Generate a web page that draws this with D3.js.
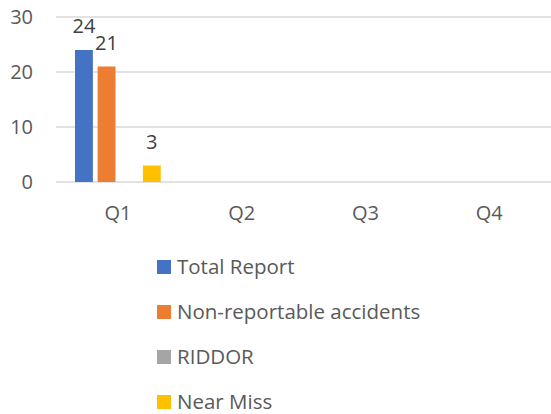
<!DOCTYPE html>
<html>
 <head>
  <meta charset="UTF-8">
  <title>Quarterly reports</title>
  <style>
    body { margin: 0; background: #fff; }
    text { font-family: "Open Sans", sans-serif; fill: #595959; }
  </style>
 </head>
 <body>
<div id="viz-wrapper"></div>
 <script src="https://cdnjs.cloudflare.com/ajax/libs/d3/7.8.5/d3.min.js"></script>
 <script>
    // data
    var quarters = ['Q1', 'Q2', 'Q3', 'Q4'];
    var seriesNames = ['Total Report', 'Non-reportable accidents', 'RIDDOR', 'Near Miss'];
    var totalReport = [24, 0, 0, 0];
    var nonReportable = [21, 0, 0, 0];
    var riddor = [0, 0, 0, 0];
    var nearMiss = [3, 0, 0, 0];
    var yTicks = [0, 10, 20, 30];
    var colors = ['#4472c4', '#ed7d31', '#a5a5a5', '#ffc000'];

    var values = [totalReport, nonReportable, riddor, nearMiss];

    var width = 551, height = 414;

    var svg = d3.select('#viz-wrapper')
                .append('svg')
                .attr('width', width)
                .attr('height', height);

    var x0 = d3.scaleBand().domain(quarters).range([56, 551]);
    var x1 = d3.scaleBand().domain(seriesNames)
               .range([19, x0.bandwidth() - 19]).paddingInner(0.21);
    var y = d3.scaleLinear().domain([0, 30]).range([182, 17]);

    // gridlines
    svg.append('g')
       .selectAll('line')
       .data(yTicks)
       .enter()
       .append('line')
       .attr('x1', 56)
       .attr('x2', 551)
       .attr('y1', function(d) { return y(d); })
       .attr('y2', function(d) { return y(d); })
       .attr('stroke', '#d9d9d9')
       .attr('stroke-width', 1.5);

    // y tick labels
    svg.append('g')
       .selectAll('text')
       .data(yTicks)
       .enter()
       .append('text')
       .attr('x', 33)
       .attr('y', function(d) { return y(d) + 7; })
       .attr('text-anchor', 'end')
       .style('font-size', '20px')
       .text(function(d) { return d; });

    // x labels
    svg.append('g')
       .selectAll('text')
       .data(quarters)
       .enter()
       .append('text')
       .attr('x', function(d) { return x0(d) + x0.bandwidth() / 2; })
       .attr('y', 220)
       .attr('text-anchor', 'middle')
       .style('font-size', '20px')
       .text(function(d) { return d; });

    // bars, one group per series
    var groups = svg.selectAll('g.series')
                    .data(seriesNames)
                    .enter()
                    .append('g')
                    .attr('class', 'series')
                    .attr('fill', function(d, i) { return colors[i]; });

    groups.selectAll('rect')
          .data(function(s, i) {
            return quarters.map(function(q, j) { return {q: q, s: s, v: values[i][j]}; });
          })
          .enter()
          .append('rect')
          .attr('x', function(d) { return x0(d.q) + x1(d.s); })
          .attr('y', function(d) { return y(d.v); })
          .attr('width', x1.bandwidth())
          .attr('height', function(d) { return y(0) - y(d.v); });

    // data labels, only where there is a value
    groups.selectAll('text')
          .data(function(s, i) {
            return quarters.map(function(q, j) { return {q: q, s: s, v: values[i][j]}; })
                           .filter(function(d) { return d.v > 0; });
          })
          .enter()
          .append('text')
          .attr('x', function(d) { return x0(d.q) + x1(d.s) + x1.bandwidth() / 2; })
          .attr('y', function(d) { return y(d.v) - 17; })
          .attr('text-anchor', 'middle')
          .style('font-size', '20px')
          .style('fill', '#404040')
          .text(function(d) { return d.v; });

    // legend
    var legend = svg.append('g')
                    .selectAll('g')
                    .data(seriesNames)
                    .enter()
                    .append('g')
                    .attr('transform', function(d, i) { return 'translate(157,' + (260 + i * 45) + ')'; });

    legend.append('rect')
          .attr('width', 14)
          .attr('height', 14)
          .attr('fill', function(d, i) { return colors[i]; });

    legend.append('text')
          .attr('x', 20)
          .attr('y', 14)
          .style('font-size', '20.5px')
          .text(function(d) { return d; });
 </script>
 </body>
</html>
